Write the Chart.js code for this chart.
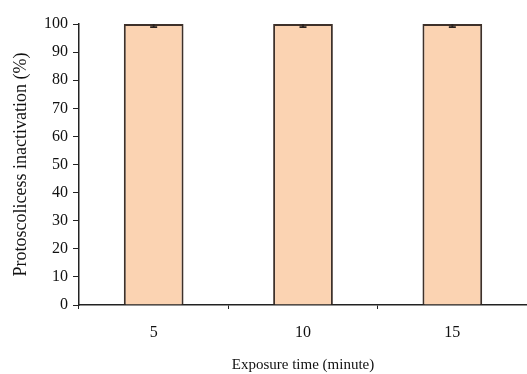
<!DOCTYPE html>
<html>
<head>
<meta charset="utf-8">
<script src="https://cdn.jsdelivr.net/npm/chart.js@4.4.0/dist/chart.umd.min.js"></script>
<style>
    body { margin: 0; background: #fff; }
    canvas { display: block; }
</style>
</head>
<body>
<canvas id="inactChart" width="527" height="374"></canvas>
<script>
// exposure times and measured inactivation
const exposureTimes = ['5', '10', '15'];
const inactivation = [100, 100, 100];
const errors = [1.1, 1.1, 1.1];

// draws small error bars on each bar
const errorBarPlugin = {
    id: 'errorBars',
    afterDatasetsDraw(chart) {
        const ctx = chart.ctx;
        const meta = chart.getDatasetMeta(0);
        const y = chart.scales.y;
        ctx.save();
        ctx.strokeStyle = '#2a2320';
        ctx.lineWidth = 1.8;
        meta.data.forEach((bar, i) => {
            const v = inactivation[i];
            const top = y.getPixelForValue(Math.min(v + errors[i], 100));
            const bot = y.getPixelForValue(v - errors[i]);
            ctx.beginPath();
            ctx.moveTo(bar.x, top);
            ctx.lineTo(bar.x, bot);
            ctx.moveTo(bar.x - 3.5, bot);
            ctx.lineTo(bar.x + 3.5, bot);
            ctx.stroke();
        });
        ctx.restore();
    }
};

document.addEventListener('DOMContentLoaded', function () {
    const ctx = document.getElementById('inactChart').getContext('2d');
    const serif = 'Liberation Serif, Times New Roman, serif';

    new Chart(ctx, {
        type: 'bar',
        data: {
            labels: exposureTimes,
            datasets: [{
                data: inactivation,
                backgroundColor: '#fbd3b2',
                borderColor: '#3e312a',
                borderWidth: 2,
                categoryPercentage: 1,
                barPercentage: 0.4
            }]
        },
        options: {
            responsive: false,
            animation: false,
            layout: { padding: { top: 24, right: 0, left: 0, bottom: 0 } },
            plugins: { legend: { display: false }, tooltip: { enabled: false } },
            scales: {
                x: {
                    grid: { drawOnChartArea: false, offset: true, tickLength: 4, color: '#222' },
                    border: { color: '#222', width: 1.5 },
                    ticks: { color: '#111', font: { family: serif, size: 16 }, padding: 14 },
                    title: {
                        display: true,
                        text: 'Exposure time (minute)',
                        color: '#111',
                        font: { family: serif, size: 15 },
                        padding: { top: 14, bottom: 0 }
                    },
                    afterFit(scale) { scale.height = 69; }
                },
                y: {
                    min: 0,
                    max: 100,
                    grid: { drawOnChartArea: false, tickLength: 6, color: '#222' },
                    border: { color: '#222', width: 1.5 },
                    ticks: { stepSize: 10, color: '#111', font: { family: serif, size: 16 }, padding: 5 },
                    title: {
                        display: true,
                        text: 'Protoscolicess inactivation (%)',
                        color: '#111',
                        font: { family: serif, size: 18 },
                        padding: { top: 10, bottom: 0 }
                    },
                    afterFit(scale) { scale.width = 79; }
                }
            }
        },
        plugins: [errorBarPlugin]
    });
});
</script>
</body>
</html>
